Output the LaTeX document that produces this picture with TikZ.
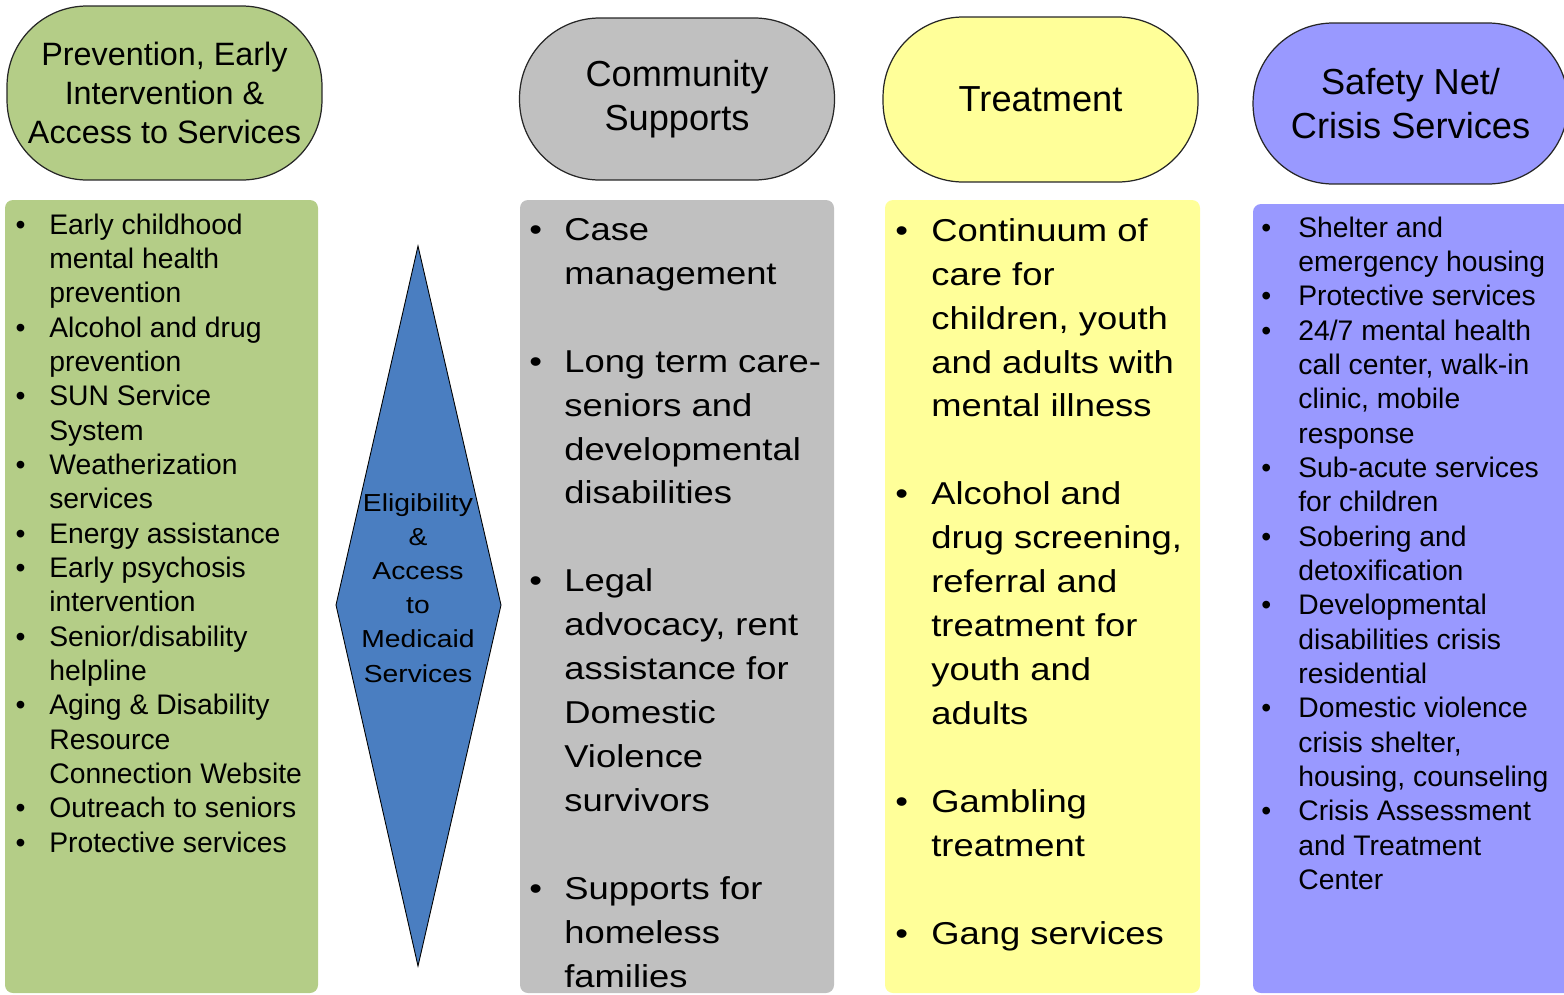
\documentclass[tikz,border=0pt]{standalone}
\usepackage{fontspec}
\setmainfont{Liberation Sans}
\newfontfamily\widesans[FakeStretch=1.15]{Liberation Sans}
\usepackage{tikz}
\usetikzlibrary{positioning}
\definecolor{prevgreen}{RGB}{180,205,135}
\definecolor{commgray}{RGB}{192,192,192}
\definecolor{treatyellow}{RGB}{255,255,153}
\definecolor{crisisblue}{RGB}{153,153,255}
\definecolor{eligblue}{RGB}{74,126,193}
\newcommand{\bul}[1][13.5pt]{\llap{\textbullet\hspace{#1}}\ignorespaces}

\begin{document}
\begin{tikzpicture}
  [
    x=0.02cm, y=-0.02cm,
    Head/.style={draw=black!85, line width=0.7pt, rounded corners=1.6cm, minimum width=6.3cm, align=center, inner sep=0pt},
    Body/.style={rounded corners=0.16cm},
    List/.style={anchor=north west, inner sep=0pt, align=left},
    Small/.style={font=\fontsize{16.1}{19.53}\selectfont},
    Big/.style={font=\fontsize{18}{25}\widesans},
    Diamond/.style={fill=eligblue, draw=black, line width=0.5pt}
  ]
  \useasboundingbox (0,0) rectangle (1564,994);
  \clip (0,0) rectangle (1564,994);
  % Columns
  \fill[prevgreen, Body] (5,200) rectangle (318,993);
  \fill[commgray, Body] (520,200) rectangle (834,993);
  \fill[treatyellow, Body] (885,200) rectangle (1200,993);
  \fill[crisisblue, Body] (1253,204) rectangle (1580,993);
  % Headers
  \node[Head, fill=prevgreen, minimum height=3.48cm, font=\fontsize{18.4}{22.2}\selectfont] (prevhead) at (164.5,93) {Prevention, Early\\ Intervention \&\\ Access to Services};
  \node[Head, fill=commgray, minimum height=3.24cm, font=\fontsize{20.6}{25}\selectfont] (commhead) at (677,99) {Community\\ Supports};
  \node[Head, fill=treatyellow, minimum height=3.3cm, font=\fontsize{20.6}{25}\selectfont] (treathead) at (1040.5,99.5) {Treatment};
  \node[Head, fill=crisisblue, minimum height=3.22cm, font=\fontsize{20.6}{25}\selectfont] (crisishead) at (1410.5,103.5) {Safety Net/\\ Crisis Services};
  % Diamond
  \draw[Diamond] (418,246) -- (501,605) -- (418,966) -- (336,605) -- cycle;
  \node[align=center, inner sep=0pt, font=\fontsize{14}{19.4}\widesans] (elig) at (418,588) {Eligibility\\ \&\\ Access\\ to\\ Medicaid\\ Services};
  % Lists
  \node[List, Small] (prevlist) at (49,213.5) {\bul Early childhood\\ mental health\\ prevention\\
    \bul Alcohol and drug\\ prevention\\
    \bul SUN Service\\ System\\
    \bul Weatherization\\ services\\
    \bul Energy assistance\\
    \bul Early psychosis\\ intervention\\
    \bul Senior/disability\\ helpline\\
    \bul Aging \& Disability\\ Resource\\ Connection Website\\
    \bul Outreach to seniors\\
    \bul Protective services};
  \node[List, Big] (commlist) at (564,218) {\bul[12.6pt] Case\\ management\\[25pt]
    \bul[12.6pt] Long term care-\\ seniors and\\ developmental\\ disabilities\\[25pt]
    \bul[12.6pt] Legal\\ advocacy, rent\\ assistance for\\ Domestic\\ Violence\\ survivors\\[25pt]
    \bul[12.6pt] Supports for\\ homeless\\ families};
  \node[List, Big] (treatlist) at (931,218) {\bul[13.2pt] Continuum of\\ care for\\ children, youth\\ and adults with\\ mental illness\\[25pt]
    \bul[13.2pt] Alcohol and\\ drug screening,\\ referral and\\ treatment for\\ youth and\\ adults\\[25pt]
    \bul[13.2pt] Gambling\\ treatment\\[25pt]
    \bul[13.2pt] Gang services};
  \node[List, Small] (crisislist) at (1298,216.5) {\bul[15.4pt] Shelter and\\ emergency housing\\
    \bul[15.4pt] Protective services\\
    \bul[15.4pt] 24/7 mental health\\ call center, walk-in\\ clinic, mobile\\ response\\
    \bul[15.4pt] Sub-acute services\\ for children\\
    \bul[15.4pt] Sobering and\\ detoxification\\
    \bul[15.4pt] Developmental\\ disabilities crisis\\ residential\\
    \bul[15.4pt] Domestic violence\\ crisis shelter,\\ housing, counseling\\
    \bul[15.4pt] Crisis Assessment\\ and Treatment\\ Center};
\end{tikzpicture}
\end{document}
